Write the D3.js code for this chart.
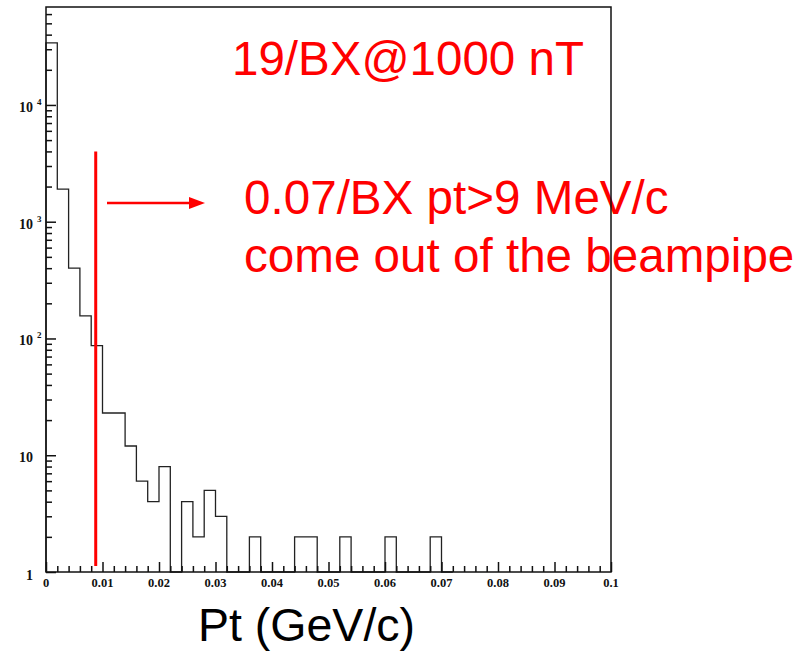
<!DOCTYPE html>
<html>
<head>
<meta charset="utf-8">
<script src="https://cdn.jsdelivr.net/npm/d3@7"></script>
<style>
  html, body { margin: 0; padding: 0; background: #fff; }
  svg { display: block; }
</style>
</head>
<body>
<svg id="chart" width="807" height="651"></svg>
<script>
// ---- data ----
const binWidth = 0.002;
const binStarts = [0.000,0.002,0.004,0.006,0.008,0.010,0.012,0.014,0.016,0.018,
                   0.020,0.022,0.024,0.026,0.028,0.030,0.032,0.034,0.036,0.038,
                   0.040,0.042,0.044,0.046,0.048,0.050,0.052,0.054,0.056,0.058,
                   0.060,0.062,0.064,0.066,0.068,0.070];
const counts    = [34000,1900,400,156,87,23,23,12,6,4,
                   8,0,4,2,5,3,0,0,2,0,
                   0,0,2,2,0,0,2,0,0,0,
                   2,0,0,0,2,0];
const xTickLabels = ["0","0.01","0.02","0.03","0.04","0.05","0.06","0.07","0.08","0.09","0.1"];
const xTickValues = [0,0.01,0.02,0.03,0.04,0.05,0.06,0.07,0.08,0.09,0.1];
const yDecades = [1,10,100,1000,10000];
const yDecadeExp = ["", "", "2", "3", "4"];
const yDecadeBase = ["1", "10", "10", "10", "10"];
const cutValue = 0.0088;        // red vertical line (pt cut)
const cutTop = 4000;            // top of red line in count units
const title = "19/BX@1000 nT";
const noteLines = ["0.07/BX pt>9 MeV/c", "come out of the beampipe"];
const xTitle = "Pt (GeV/c)";

// ---- layout ----
const svg = d3.select("#chart");
const L = 46, R = 611, T = 7, B = 572;
const x = d3.scaleLinear().domain([0, 0.1]).range([L, R]);
const y = d3.scaleLog().domain([1, 69000]).range([B, T]);

// ---- histogram (step line) ----
const yv = v => v > 0 ? y(v) : B;
let pts = [[x(binStarts[0]), B]];
binStarts.forEach((s, i) => {
  pts.push([x(s), yv(counts[i])]);
  pts.push([x(s + binWidth), yv(counts[i])]);
});
pts.push([x(binStarts[binStarts.length-1] + binWidth), B]);
svg.append("path")
  .attr("d", d3.line()(pts))
  .attr("fill", "none")
  .attr("stroke", "#222")
  .attr("stroke-width", 1.3);

// ---- red annotations ----
svg.append("line")
  .attr("x1", x(cutValue)).attr("x2", x(cutValue))
  .attr("y1", y(cutTop)).attr("y2", B - 6)
  .attr("stroke", "#ff0000").attr("stroke-width", 3);

const ay = 203;
svg.append("line")
  .attr("x1", 107).attr("x2", 192)
  .attr("y1", ay).attr("y2", ay)
  .attr("stroke", "#ff0000").attr("stroke-width", 2.5);
svg.append("path")
  .attr("d", `M189,${ay-6}L205,${ay}L189,${ay+6}Z`)
  .attr("fill", "#ff0000");

const big = "'Liberation Sans', Arial, Helvetica, sans-serif";
svg.append("text")
  .attr("x", 232).attr("y", 75)
  .attr("font-family", big).attr("font-size", 47.5)
  .attr("fill", "#ff0000").text(title);
noteLines.forEach((t, i) => {
  svg.append("text")
    .attr("x", 244).attr("y", 214 + i * 58)
    .attr("font-family", big).attr("font-size", 47.6)
    .attr("fill", "#ff0000").text(t);
});

// ---- frame ----
svg.append("rect")
  .attr("x", L).attr("y", T).attr("width", R - L).attr("height", B - T)
  .attr("fill", "none").attr("stroke", "#111").attr("stroke-width", 1.5);

// ---- y axis ticks (log) ----
const yTicks = [];
for (let d = 1; d <= 10000; d *= 10) {
  for (let m = 1; m <= 9; m++) {
    const v = d * m;
    if (v <= 69000) yTicks.push(v);
  }
}
const yAxis = d3.axisRight(y).tickValues(yTicks).tickSize(6).tickFormat("");
const gy = svg.append("g").attr("transform", `translate(${L},0)`).call(yAxis);
gy.select(".domain").remove();
gy.selectAll(".tick line")
  .attr("stroke", "#111").attr("stroke-width", 1.5)
  .attr("x2", d => yDecades.includes(d) ? 10 : 6);

const serif = "'Liberation Serif', 'Times New Roman', serif";
yDecades.forEach((v, i) => {
  const ty = y(v);
  const t = svg.append("text")
    .attr("font-family", serif).attr("font-weight", "bold")
    .attr("font-size", 14).attr("fill", "#111");
  if (yDecadeExp[i]) {
    t.attr("x", 19).attr("y", ty + 7).text(yDecadeBase[i]);
    svg.append("text")
      .attr("x", 37).attr("y", ty)
      .attr("font-family", serif).attr("font-weight", "bold")
      .attr("font-size", 9).attr("fill", "#111").text(yDecadeExp[i]);
  } else {
    t.attr("text-anchor", "end").attr("x", 33).attr("y", ty + (v === 1 ? 8 : 7)).text(yDecadeBase[i]);
  }
});

// ---- x axis ticks ----
const xMinor = d3.range(0, 51).map(k => k * 0.002);
const xAxis = d3.axisTop(x).tickValues(xMinor).tickSize(6).tickFormat("");
const gx = svg.append("g").attr("transform", `translate(0,${B})`).call(xAxis);
gx.select(".domain").remove();
gx.selectAll(".tick line")
  .attr("stroke", "#111").attr("stroke-width", 1.5)
  .attr("y2", (d, i) => i % 5 === 0 ? -10 : -6);

xTickValues.forEach((v, i) => {
  svg.append("text")
    .attr("x", x(v)).attr("y", 587)
    .attr("text-anchor", "middle")
    .attr("font-family", serif).attr("font-weight", "bold")
    .attr("font-size", 12.5).attr("fill", "#111")
    .text(xTickLabels[i]);
});

// ---- x title ----
svg.append("text")
  .attr("x", 198).attr("y", 641)
  .attr("font-family", big).attr("font-size", 46.5)
  .attr("fill", "#000").text(xTitle);
</script>
</body>
</html>
